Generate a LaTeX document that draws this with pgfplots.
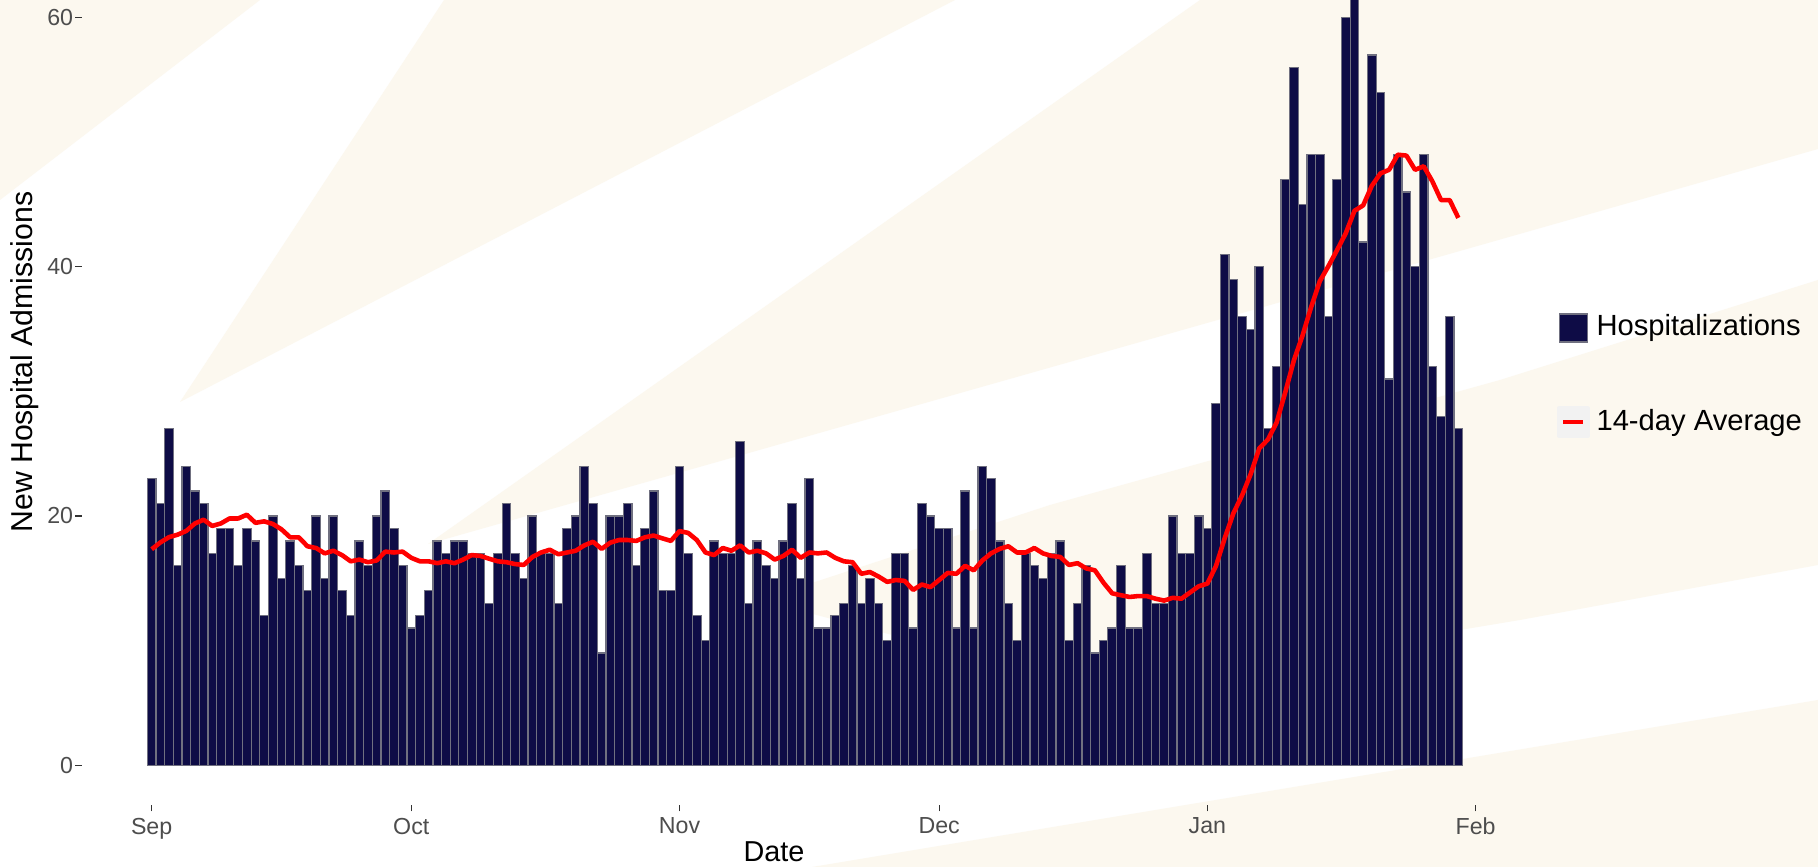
\documentclass[border=0pt]{standalone}
\usepackage{fontspec}
\setmainfont{Liberation Sans}
\usepackage{pgfplots}
\pgfplotsset{compat=1.18}
\definecolor{navy}{RGB}{14,12,70}
\definecolor{bargray}{RGB}{112,112,128}
\definecolor{cream}{RGB}{252,248,239}
\definecolor{tickgray}{RGB}{77,77,77}
\definecolor{keygray}{RGB}{242,242,242}
\begin{document}
\begin{tikzpicture}
\fill[white] (0,0) rectangle (18.18,-8.67);
\begin{scope}
\clip (0,0) rectangle (18.18,-8.67);
\fill[cream] (0,0) -- (2.60,0) -- (0,-2.00) -- cycle;
\fill[cream] (1.80,-4.02) -- (4.44,0) -- (9.55,0) -- cycle;
\fill[cream] (4.28,-5.44) -- (12.00,0) -- (18.18,0) -- (18.18,-1.49) -- (12.00,-3.25) -- cycle;
\fill[cream] (7.60,-6.00) -- (10.50,-5.05) -- (15.00,-3.80) -- (18.18,-2.80) -- (18.18,-5.65) -- (15.20,-6.20) -- (11.00,-6.90) -- cycle;
\fill[cream] (8.12,-8.67) -- (18.18,-7.00) -- (18.18,-8.67) -- cycle;
\end{scope}
\begin{axis}[
  at={(0.82cm,-8.05cm)}, anchor=south west,
  width=14.46cm, height=8.77cm, scale only axis,
  xmin=-8.05, xmax=159.05, ymin=-3.2, ymax=67.2,
  axis lines*=left, axis line style={draw=none},
  tick align=outside, major tick length=0.065cm,
  tick style={color=black!80, line width=0.3pt},
  xtick={0,30,61,91,122,153}, xticklabels={Sep,Oct,Nov,Dec,Jan,Feb},
  ytick={0,20,40,60},
  tick label style={font=\fontsize{6.6}{8}\selectfont, text=tickgray},
  xticklabel style={yshift=0.06cm},
  yticklabel style={xshift=0.1cm},
  /pgf/number format/assume math mode=true,
  xlabel={Date}, ylabel={New Hospital Admissions},
  xlabel style={font=\fontsize{8.2}{10}\selectfont, at={(axis description cs:0.4786,-0.0536)}, anchor=center},
  ylabel style={font=\fontsize{8.6}{10.5}\selectfont, at={(axis description cs:-0.0394,0.505)}, anchor=center},
  legend style={at={(1.02,0.567)}, anchor=north west, draw=none, fill=none,
    inner sep=0pt, outer sep=0pt, font=\fontsize{8.3}{10}\selectfont,
    row sep=15.3pt},
  legend cell align=left,
]
\addplot[ybar, bar width=1, fill=navy, draw=bargray, line width=0.35pt,
  legend image code/.code={\draw[fill=navy, draw=bargray, line width=0.4pt] (0cm,-0.14cm) rectangle (0.28cm,0.14cm);}]
table[x=d, y=v] {
d v
0 23
1 21
2 27
3 16
4 24
5 22
6 21
7 17
8 19
9 19
10 16
11 19
12 18
13 12
14 20
15 15
16 18
17 16
18 14
19 20
20 15
21 20
22 14
23 12
24 18
25 16
26 20
27 22
28 19
29 16
30 11
31 12
32 14
33 18
34 17
35 18
36 18
37 17
38 17
39 13
40 17
41 21
42 17
43 15
44 20
45 17
46 17
47 13
48 19
49 20
50 24
51 21
52 9
53 20
54 20
55 21
56 16
57 19
58 22
59 14
60 14
61 24
62 17
63 12
64 10
65 18
66 17
67 17
68 26
69 13
70 18
71 16
72 15
73 18
74 21
75 15
76 23
77 11
78 11
79 12
80 13
81 16
82 13
83 15
84 13
85 10
86 17
87 17
88 11
89 21
90 20
91 19
92 19
93 11
94 22
95 11
96 24
97 23
98 18
99 13
100 10
101 17
102 16
103 15
104 17
105 18
106 10
107 13
108 16
109 9
110 10
111 11
112 16
113 11
114 11
115 17
116 13
117 13
118 20
119 17
120 17
121 20
122 19
123 29
124 41
125 39
126 36
127 35
128 40
129 27
130 32
131 47
132 56
133 45
134 49
135 49
136 36
137 47
138 60
139 64
140 42
141 57
142 54
143 31
144 49
145 46
146 40
147 49
148 32
149 28
150 36
151 27
};
\addlegendentry{Hospitalizations}
\addplot[red, line width=1.3pt, line join=round,
  legend image code/.code={\fill[keygray] (0cm,-0.14cm) rectangle (0.28cm,0.14cm); \draw[red, line width=1.3pt] (0.04cm,0cm) -- (0.24cm,0cm);}]
table[x=d, y=a] {
d a
0 17.33
1 17.87
2 18.30
3 18.50
4 18.80
5 19.40
6 19.70
7 19.20
8 19.40
9 19.80
10 19.80
11 20.10
12 19.45
13 19.57
14 19.36
15 18.93
16 18.29
17 18.29
18 17.57
19 17.43
20 17.00
21 17.21
22 16.86
23 16.36
24 16.50
25 16.29
26 16.43
27 17.14
28 17.07
29 17.14
30 16.64
31 16.36
32 16.36
33 16.21
34 16.36
35 16.21
36 16.50
37 16.86
38 16.79
39 16.57
40 16.36
41 16.29
42 16.14
43 16.07
44 16.71
45 17.07
46 17.29
47 16.93
48 17.07
49 17.21
50 17.64
51 17.93
52 17.36
53 17.86
54 18.07
55 18.07
56 18.00
57 18.29
58 18.43
59 18.21
60 18.00
61 18.79
62 18.64
63 18.07
64 17.07
65 16.86
66 17.43
67 17.21
68 17.64
69 17.07
70 17.21
71 17.00
72 16.50
73 16.79
74 17.29
75 16.64
76 17.07
77 17.00
78 17.07
79 16.64
80 16.36
81 16.29
82 15.36
83 15.50
84 15.14
85 14.71
86 14.86
87 14.79
88 14.07
89 14.50
90 14.29
91 14.86
92 15.43
93 15.36
94 16.00
95 15.64
96 16.43
97 17.00
98 17.36
99 17.57
100 17.07
101 17.07
102 17.43
103 17.00
104 16.79
105 16.71
106 16.07
107 16.21
108 15.79
109 15.64
110 14.64
111 13.79
112 13.64
113 13.50
114 13.57
115 13.57
116 13.36
117 13.21
118 13.43
119 13.36
120 13.86
121 14.36
122 14.57
123 16.00
124 18.21
125 20.21
126 21.64
127 23.36
128 25.43
129 26.14
130 27.50
131 29.93
132 32.50
133 34.50
134 36.79
135 38.86
136 40.07
137 41.36
138 42.71
139 44.50
140 44.93
141 46.50
142 47.50
143 47.79
144 49.00
145 48.93
146 47.79
147 48.07
148 46.86
149 45.36
150 45.36
151 43.93
};
\addlegendentry{14-day Average}
\end{axis}
\pgfresetboundingbox
\path[use as bounding box] (0,0) rectangle (18.18,-8.67);
\end{tikzpicture}
\end{document}
